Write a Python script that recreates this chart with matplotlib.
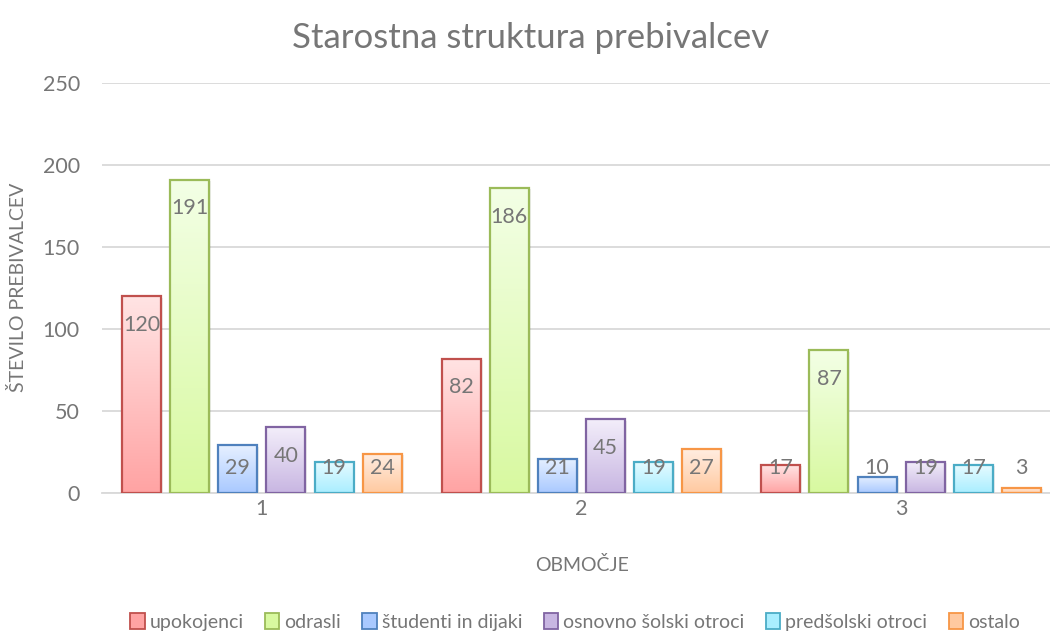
import numpy as np
import matplotlib.pyplot as plt
from matplotlib.colors import LinearSegmentedColormap
from matplotlib.patches import Patch

plt.rcParams['font.family'] = ['Lato', 'DejaVu Sans']

# data
areas = ['1', '2', '3']
series = ['upokojenci', 'odrasli', 'študenti in dijaki',
          'osnovno šolski otroci', 'predšolski otroci', 'ostalo']
upokojenci = [120, 82, 17]
odrasli = [191, 186, 87]
studenti = [29, 21, 10]
osnovna = [40, 45, 19]
predsolski = [19, 19, 17]
ostalo = [24, 27, 3]
values = [upokojenci, odrasli, studenti, osnovna, predsolski, ostalo]

# (edge, top colour, bottom colour)
styles = [
    ('#C0504D', '#FFE4E4', '#FFA3A3'),
    ('#9BBB59', '#F3FFE6', '#D8F9A0'),
    ('#4F81BD', '#E6F0FF', '#A9C9FF'),
    ('#8064A2', '#F3EEFA', '#C8B6E2'),
    ('#4BACC6', '#E6FBFF', '#A9EEFF'),
    ('#F79646', '#FFEEE2', '#FFC9A0'),
]
text_col = '#767676'
grid_col = '#D9D9D9'

fig = plt.figure(figsize=(10.5, 6.44), dpi=100)
ax = fig.add_axes([102 / 1050, 151 / 644, 959 / 1050, 410 / 644])

x = np.arange(len(areas))
pitch = 0.1506
width = 0.122
grad = np.linspace(0, 1, 256).reshape(-1, 1)

for i, (vals, (edge, top, bot)) in enumerate(zip(values, styles)):
    cmap = LinearSegmentedColormap.from_list('g%d' % i, [bot, top])
    pos = x + (i - 2.5) * pitch
    bars = ax.bar(pos, vals, width, facecolor='none', edgecolor=edge,
                  linewidth=1.6, zorder=3)
    for b, v in zip(bars, vals):
        x0 = b.get_x()
        im = ax.imshow(grad, cmap=cmap, aspect='auto', origin='lower',
                       extent=[x0, x0 + width, 0, v], zorder=2)
        im.set_clip_path(b)
        # faint shadow
        ax.add_patch(plt.Rectangle((x0 + 0.006, -0.8), width, v,
                                   facecolor='#000000', alpha=0.07,
                                   zorder=1.5, linewidth=0))
        ax.text(b.get_x() + width / 2, max(v - 17.5, 15), str(v),
                ha='center', va='center', fontsize=15.5, color=text_col,
                zorder=4)

ax.set_xlim(-0.5, 2.5)
ax.set_ylim(0, 250)
ax.set_yticks(np.arange(0, 251, 50))
ax.set_xticks(x)
ax.set_xticklabels(areas)
ax.yaxis.grid(True, color=grid_col, linewidth=1.3, zorder=0)
ax.set_axisbelow(True)
for s in ['left', 'right', 'top']:
    ax.spines[s].set_visible(False)
ax.spines['bottom'].set_color(grid_col)
ax.spines['bottom'].set_linewidth(1.3)
ax.tick_params(axis='both', length=0, labelsize=15.5, colors=text_col)
ax.tick_params(axis='y', pad=16)
ax.tick_params(axis='x', pad=4)

fig.text(531 / 1050, 1 - 38 / 644, 'Starostna struktura prebivalcev',
         ha='center', va='center', fontsize=25, color=text_col)
fig.text(582 / 1050, 1 - 565 / 644, 'OBMOČJE', ha='center', va='center',
         fontsize=14, color=text_col)
fig.text(18 / 1050, 1 - 287 / 644, 'ŠTEVILO PREBIVALCEV', ha='center',
         va='center', rotation=90, fontsize=14, color=text_col)

handles = [Patch(facecolor=bot, edgecolor=edge, linewidth=1.3)
           for edge, top, bot in styles]
fig.legend(handles, series, loc='center', ncol=6,
           bbox_to_anchor=(575 / 1050, 1 - 622 / 644), frameon=False,
           fontsize=14, labelcolor=text_col, handlelength=0.75,
           handleheight=0.9, handletextpad=0.25, columnspacing=1.1)

fig.savefig('out.png', dpi=100)
